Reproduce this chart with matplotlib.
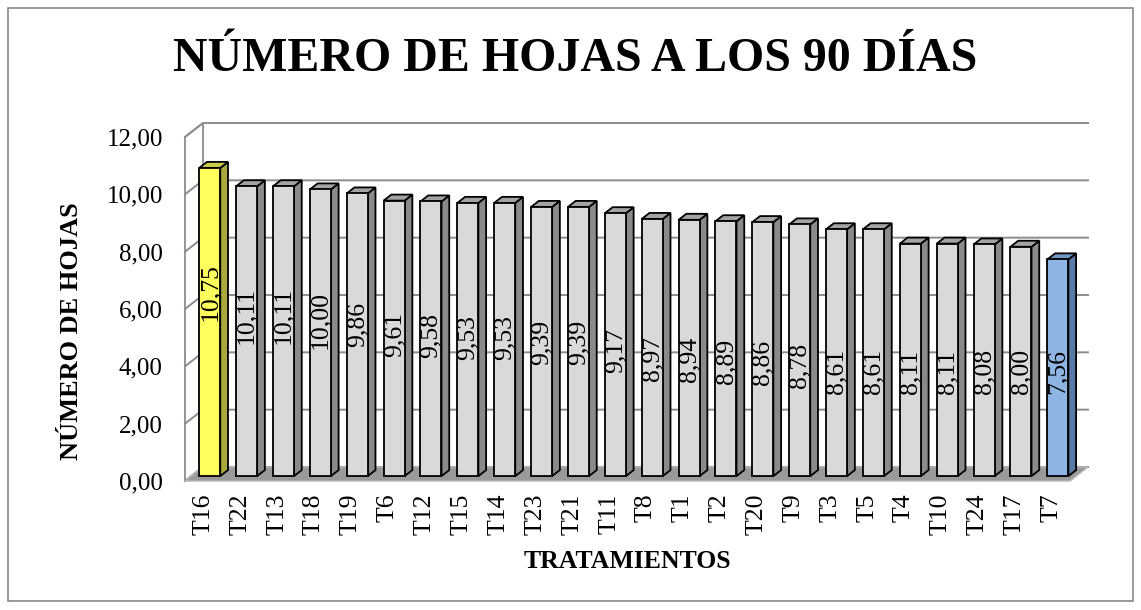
import numpy as np
import matplotlib
matplotlib.use("Agg")
import matplotlib.pyplot as plt
from matplotlib.patches import Polygon, Rectangle

# data
tratamientos = ["T16", "T22", "T13", "T18", "T19", "T6", "T12", "T15", "T14", "T23", "T21", "T11",
                "T8", "T1", "T2", "T20", "T9", "T3", "T5", "T4", "T10", "T24", "T17", "T7"]
hojas = [10.75, 10.11, 10.11, 10.00, 9.86, 9.61, 9.58, 9.53, 9.53, 9.39, 9.39, 9.17,
         8.97, 8.94, 8.89, 8.86, 8.78, 8.61, 8.61, 8.11, 8.11, 8.08, 8.00, 7.56]
y_ticks = [0, 2, 4, 6, 8, 10, 12]

plt.rcParams['font.family'] = ['Liberation Serif', 'DejaVu Serif']

W, H = 1141, 610
fig = plt.figure(figsize=(W / 100, H / 100), dpi=100)
# axes box in pixels (front plane of the 3d box)
ax_l, ax_b, ax_w, ax_h = 185, H - 481, 885, 344
ax = fig.add_axes([ax_l / W, ax_b / H, ax_w / W, ax_h / H])
n = len(hojas)
ax.set_xlim(0, n)
ax.set_ylim(0, 12)

# depth offset (pixels -> data units)
DX = 18 * n / ax_w
DY = 14 * 12 / ax_h
d0, d1 = 0.35, 0.78
bw = 0.57

def P(x, y, d):
    return (x + d * DX, y + d * DY)

grid_c = '#8c8c8c'
# left wall
ax.add_patch(Polygon([P(0, 0, 0), P(0, 12, 0), P(0, 12, 1), P(0, 0, 1)], closed=True,
                     facecolor='white', edgecolor=grid_c, lw=1.3, clip_on=False, zorder=1))
for t in y_ticks:
    xs, ys = zip(P(0, t, 0), P(0, t, 1), P(n, t, 1))
    ax.plot(xs, ys, color=grid_c, lw=1.4, clip_on=False, zorder=1)
# floor
ax.add_patch(Polygon([P(0, 0, 0), P(n, 0, 0), P(n, 0, 1), P(0, 0, 1)], closed=True,
                     facecolor='#9a9a9a', edgecolor='#b8b8b8', lw=1, clip_on=False, zorder=2))

colors = []
for i in range(n):
    if i == 0:
        colors.append(('#ffff5e', '#a8a83c', '#c9c94a'))
    elif i == n - 1:
        colors.append(('#8db4e2', '#5a7ba5', '#7196c4'))
    else:
        colors.append(('#d9d9d9', '#8a8a8a', '#a3a3a3'))

for i, v in enumerate(hojas):
    c = i + 0.5
    xl, xr = c - bw / 2, c + bw / 2
    front, side, top = colors[i]
    kw = dict(closed=True, edgecolor='black', lw=1.3, clip_on=False, zorder=3)
    ax.add_patch(Polygon([P(xr, 0, d0), P(xr, 0, d1), P(xr, v, d1), P(xr, v, d0)], facecolor=side, **kw))
    ax.add_patch(Polygon([P(xl, v, d0), P(xr, v, d0), P(xr, v, d1), P(xl, v, d1)], facecolor=top, **kw))
    ax.add_patch(Polygon([P(xl, 0, d0), P(xr, 0, d0), P(xr, v, d0), P(xl, v, d0)], facecolor=front, **kw))
    yc = max(3.65, 3.65 + 1.3 * (v - 8.61))
    lx, ly = P(c, yc, d0)
    ax.text(lx, ly, f"{v:.2f}".replace('.', ','), rotation=90, ha='center', va='center',
            fontsize=18.5, color='black', zorder=4)

ax.set_yticks(y_ticks)
ax.set_yticklabels([f"{t:.2f}".replace('.', ',') for t in y_ticks], fontsize=18)
ax.set_xticks(np.arange(n) + 0.5)
ax.set_xticklabels(tratamientos, rotation=90, fontsize=18.5)
ax.tick_params(axis='y', length=0, pad=16)
ax.tick_params(axis='x', length=0, pad=9)
for s in ax.spines.values():
    s.set_visible(False)
ax.patch.set_visible(False)

fig.text(575 / W, 1 - 59 / H, "NÚMERO DE HOJAS A LOS 90 DÍAS", ha='center', va='center',
         fontsize=34.5, fontweight='bold')
fig.text(627 / W, 1 - 562 / H, "TRATAMIENTOS", ha='center', va='center',
         fontsize=18.5, fontweight='bold')
fig.text(72 / W, 1 - 331 / H, "NÚMERO DE HOJAS", ha='center', va='center', rotation=90,
         fontsize=19, fontweight='bold')

fig.patches.append(Rectangle((8 / W, 9 / H), 1125 / W, 593 / H, transform=fig.transFigure,
                             fill=False, edgecolor='#888888', lw=1.2))

fig.savefig("out.png", dpi=100)
